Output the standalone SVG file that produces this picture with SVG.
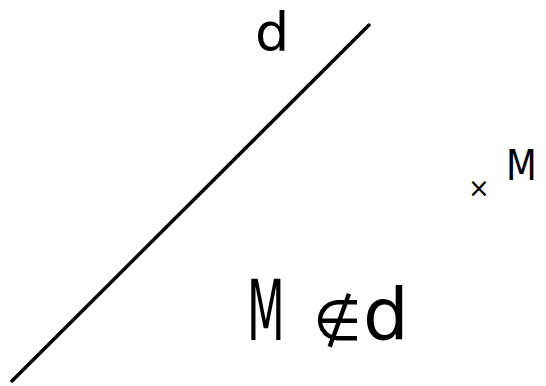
<svg xmlns="http://www.w3.org/2000/svg" width="546" height="386" viewBox="0 0 546 386">
<style>
.t{font-family:"DejaVu Sans","Liberation Sans",sans-serif;fill:#000}
</style>
<rect width="546" height="386" fill="#fff"/>
<g id="line-d">
<line x1="12" y1="381" x2="369" y2="25" stroke="#000" stroke-width="3.5" stroke-linecap="round"/>
<text class="t" x="255" y="51" font-size="54">d</text>
</g>
<g id="point-M">
<text class="t" x="479" y="197" font-size="26" text-anchor="middle">×</text>
<text class="t" font-size="42" transform="translate(506,180) scale(0.85,1)">M</text>
</g>
<g id="relation">
<text class="t" font-size="84" transform="translate(247,340) scale(0.52,1)">M</text>
<text class="t" x="313" y="340" font-size="56">∉</text>
<text class="t" x="363" y="339" font-size="72">d</text>
</g>
</svg>
